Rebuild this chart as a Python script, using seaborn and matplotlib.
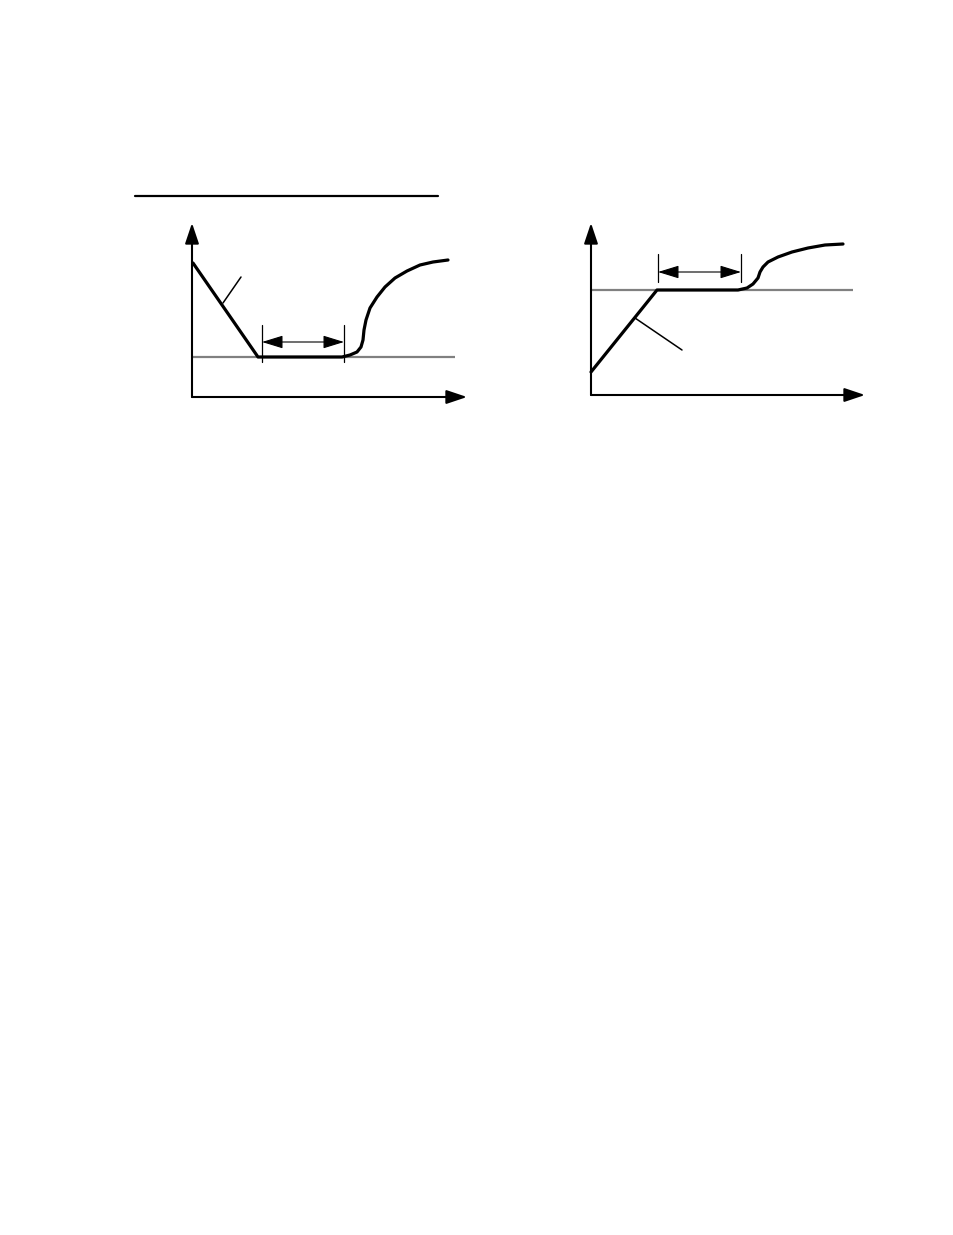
import numpy as np
import pandas as pd
import matplotlib
matplotlib.use("Agg")
import matplotlib.pyplot as plt
import seaborn as sns
from matplotlib.lines import Line2D

sns.set_theme(style="white")

W, H = 954, 1235

# ---- Left panel data (units: time / level, origin at axes corner) ----
left_x = [1, 66, 150, 158, 165, 169, 171, 172, 174, 178, 185, 193, 203, 215, 228, 241, 256]
left_y = [134, 40, 40, 42, 45, 50, 57, 67, 77, 89, 100, 110, 119, 126, 132, 135, 137]
left_ref_level = 40
left_ref_end = 263
left_bracket = [70, 152]
left_pointer_x = [31, 49]
left_pointer_y = [94, 120]

# ---- Right panel data ----
right_x = [0, 66, 147, 156, 162, 167, 169, 172, 177, 187, 201, 217, 234, 252]
right_y = [23, 105, 105, 107, 111, 117, 123, 128, 133, 138, 143, 147, 150, 151]
right_ref_level = 105
right_ref_end = 262
right_bracket = [67, 150]
right_pointer_x = [44, 91]
right_pointer_y = [77, 45]

fig = plt.figure(figsize=(W / 100, H / 100), dpi=100)
fig.patch.set_facecolor("white")

# top underline
fig.add_artist(Line2D([135 / W, 438 / W], [1 - 196 / H, 1 - 196 / H],
                      color="black", lw=1.6, transform=fig.transFigure))


def panel(ox, oy, w, h, xs, ys, ref_level, ref_end, bracket, br_y0, br_y1, br_arrow,
          ptr_x, ptr_y, xtip, ytip):
    ax = fig.add_axes([ox / W, 1 - oy / H, w / W, h / H])
    ax.set_xlim(0, w)
    ax.set_ylim(0, h)
    ax.axis("off")
    # axes with arrowheads
    ax.annotate("", xy=(xtip, 0), xytext=(0, 0),
                arrowprops=dict(arrowstyle="-|>,head_length=1.25,head_width=0.42",
                                mutation_scale=10, lw=1.5, color="black",
                                shrinkA=0, shrinkB=0), annotation_clip=False)
    ax.annotate("", xy=(0, ytip), xytext=(0, 0),
                arrowprops=dict(arrowstyle="-|>,head_length=1.25,head_width=0.42",
                                mutation_scale=10, lw=1.5, color="black",
                                shrinkA=0, shrinkB=0), annotation_clip=False)
    # reference level
    ax.plot([0, ref_end], [ref_level, ref_level], color="#808080", lw=1.6,
            solid_capstyle="butt", clip_on=False)
    # curve
    df = pd.DataFrame({"t": xs, "v": ys})
    sns.lineplot(data=df, x="t", y="v", sort=False, color="black", lw=2.3,
                 ax=ax, estimator=None)
    for ln in ax.lines:
        ln.set_clip_on(False)
        ln.set_solid_joinstyle("round")
    ax.set_xlabel("")
    ax.set_ylabel("")
    # pointer
    ax.plot(ptr_x, ptr_y, color="black", lw=1.1, clip_on=False)
    # bracket
    for bx in bracket:
        ax.plot([bx, bx], [br_y0, br_y1], color="black", lw=0.9, clip_on=False)
    ax.annotate("", xy=(bracket[1], br_arrow), xytext=(bracket[0], br_arrow),
                arrowprops=dict(arrowstyle="<|-|>,head_length=1.3,head_width=0.4",
                                mutation_scale=10, lw=0.8, color="black",
                                shrinkA=0, shrinkB=0), annotation_clip=False)
    return ax


panel(192, 397, 290, 185, left_x, left_y, left_ref_level, left_ref_end,
      left_bracket, 35, 72, 55, left_pointer_x, left_pointer_y, 275, 174)
panel(591, 395, 290, 185, right_x, right_y, right_ref_level, right_ref_end,
      right_bracket, 113, 141, 123, right_pointer_x, right_pointer_y, 274, 172)

fig.savefig("out.png", dpi=100, facecolor="white")
